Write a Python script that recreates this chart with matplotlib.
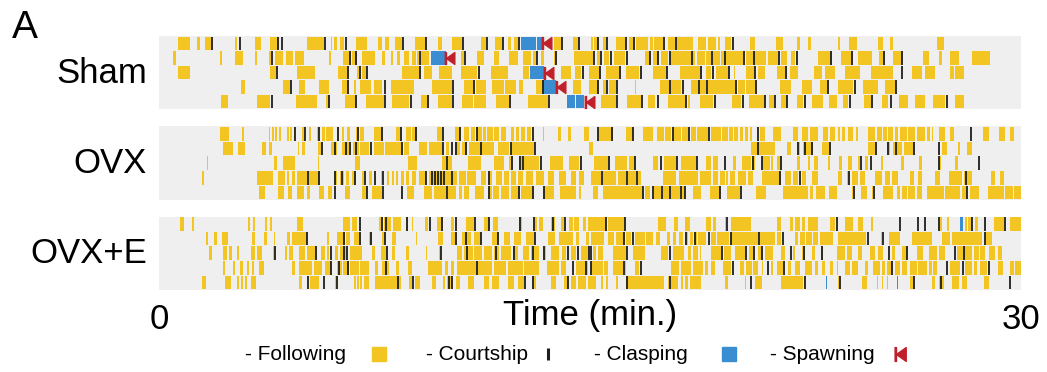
import matplotlib
matplotlib.use("Agg")
from matplotlib import pyplot as plt
from matplotlib.path import Path

plt.rcParams['font.family'] = ['Liberation Sans', 'DejaVu Sans']

# event times in minutes, one list per fish (5 fish per group)
# following bouts are (start, end); courtship and spawning are single time points

sham_following = [
    [(0.67,1.08),(1.31,1.43),(1.60,1.81),(2.65,2.71),(3.33,3.56),(3.87,4.16),(5.15,5.73),(5.97,6.02),(6.08,6.20),(6.31,6.43),(6.84,7.24),(7.63,7.77),(7.88,8.00),(8.21,8.47),(8.91,9.28),(9.72,9.86),(10.19,10.56),(11.20,11.37),(11.70,11.95),(12.13,12.24),(12.36,12.48),(13.76,13.99),(14.40,14.57),(15.03,15.10),(15.15,15.27),(15.44,15.56),(15.91,16.20),(16.37,16.49),(16.60,17.01),(17.07,17.19),(17.24,17.53),(17.71,17.94),(18.03,18.58),(18.76,19.05),(19.10,19.40),(19.45,19.51),(19.69,19.92),(20.56,20.73),(21.47,21.72),(22.19,22.31),(22.60,22.69),(23.62,23.70),(24.01,24.28),(25.01,25.21),(25.44,25.56),(27.08,27.31)],
    [(0.50,0.58),(2.13,2.19),(2.63,2.91),(3.35,3.41),(3.81,3.91),(4.02,4.30),(4.43,4.66),(4.72,5.06),(5.91,5.97),(6.41,6.60),(6.72,6.84),(7.05,7.50),(7.77,7.88),(8.06,8.14),(8.29,8.37),(8.52,8.70),(8.81,8.93),(8.99,9.05),(9.10,9.40),(10.50,10.62),(11.08,11.31),(11.66,11.84),(12.19,12.48),(12.65,12.94),(13.00,13.12),(13.29,13.41),(13.76,13.81),(14.45,15.09),(15.24,15.33),(15.50,15.67),(15.85,16.20),(16.90,17.07),(17.19,17.37),(17.48,17.71),(17.77,18.64),(18.73,18.99),(19.05,19.22),(19.28,19.51),(19.57,19.69),(19.74,20.33),(20.44,21.14),(21.20,21.55),(21.64,21.84),(22.01,22.13),(22.94,23.41),(23.73,24.10),(24.34,24.80),(25.06,25.21),(25.56,25.85),(26.60,26.78),(27.13,27.24),(27.53,27.83),(28.29,28.93)],
    [(0.67,1.08),(3.87,4.07),(4.80,5.42),(6.23,6.55),(6.90,6.98),(7.07,7.19),(8.44,9.05),(9.22,9.51),(9.74,10.19),(10.50,11.08),(11.55,12.13),(12.65,12.88),(13.99,14.34),(14.49,14.69),(14.95,15.33),(15.56,16.02),(16.26,16.72),(17.19,17.65),(18.12,18.81),(19.05,19.22),(19.40,19.80),(20.01,20.06),(20.44,20.73),(20.85,21.08),(21.49,21.78),(21.95,22.24),(22.80,23.06),(23.17,23.52),(23.87,24.40),(24.78,25.56),(26.20,26.55),(26.66,27.01),(27.53,27.65),(27.71,28.00)],
    [(2.86,3.00),(4.31,4.57),(4.86,5.09),(5.56,5.91),(6.37,6.55),(6.78,6.87),(7.01,7.36),(7.48,7.77),(8.06,8.87),(9.51,10.21),(10.62,10.91),(11.02,11.37),(11.60,12.00),(12.03,12.42),(12.53,12.65),(13.12,13.35),(14.40,14.69),(14.98,15.26),(15.44,15.56),(15.67,15.91),(16.55,16.60),(17.42,17.77),(17.83,18.17),(18.52,18.76),(18.81,19.05),(19.09,20.03),(20.15,20.38),(20.44,20.73),(21.60,22.01),(22.36,22.71),(23.00,23.23),(23.64,24.16),(24.51,25.03),(25.27,25.62)],
    [(2.16,2.40),(3.41,3.87),(4.77,5.50),(5.81,5.91),(6.47,6.84),(7.19,7.83),(8.12,8.70),(9.10,9.34),(9.72,10.21),(10.53,10.91),(10.97,11.37),(11.72,12.19),(12.83,13.52),(15.38,15.91),(16.29,16.78),(17.03,17.27),(17.71,18.29),(18.41,18.47),(18.81,19.28),(19.94,20.27),(20.53,21.08),(21.22,21.41),(21.66,21.84),(22.19,22.42),(22.71,23.12),(23.31,23.58),(23.81,23.99),(24.55,24.78),(25.15,25.38),(25.76,26.08),(26.31,26.66),(26.95,27.36),(27.69,28.00)],
]
sham_courtship = [
    [1.86,2.83,4.14,4.28,5.79,6.49,8.49,9.30,10.58,11.43,11.98,12.53,14.02,14.63,15.29,15.59,16.26,16.52,17.57,18.00,19.98],
    [3.93,6.63,6.87,9.07,10.65,13.15,13.83,15.15,15.38,15.73,16.29,17.10,17.38,17.77,18.55,19.24,19.71,20.36,20.71,21.57,22.19,23.38,24.12,25.23,25.87],
    [4.10,6.57,6.99,7.24,9.07,11.12,14.74,15.36,16.06,16.76,17.69,18.85,19.28,19.83,20.74,21.81,25.85],
    [4.60,6.58,7.86,10.23,10.97,13.36,15.28,15.59,15.94,17.80,18.23,18.79,19.08,20.09,20.79,23.27,24.22,25.64],
    [3.93,5.93,6.87,7.86,8.76,9.37,10.24,12.21,13.56,15.94,16.80,17.36,18.35,19.34,20.33,21.10,21.43,21.86,22.48,24.05,24.80,25.48,27.42],
]
sham_clasping = [
    [(12.59,13.12),(13.14,13.35)],
    [(9.45,9.98)],
    [(12.91,13.41)],
    [(13.37,13.81)],
    [(14.19,14.48),(14.51,14.80)],
]
sham_spawning = [[13.37], [10.00], [13.44], [13.84], [14.86]]

ovx_following = [
    [(2.13,2.42),(2.88,2.94),(3.81,3.87),(3.93,3.99),(4.05,4.10),(4.16,4.26),(4.45,4.51),(4.57,4.63),(4.69,4.74),(4.98,5.07),(5.21,5.30),(5.50,5.56),(5.67,5.79),(5.81,6.05),(6.20,6.26),(6.37,6.43),(6.55,6.63),(6.84,6.90),(6.98,7.13),(7.48,7.71),(8.26,8.41),(8.60,8.76),(8.81,8.95),(9.69,9.86),(10.30,10.50),(10.62,10.79),(10.85,11.00),(11.08,11.23),(11.28,11.37),(11.43,11.63),(11.66,11.84),(11.90,12.07),(12.24,12.36),(12.42,12.53),(12.59,12.74),(12.79,12.94),(13.35,13.41),(13.87,13.99),(14.22,14.34),(14.80,14.95),(15.27,15.79),(16.26,16.49),(16.84,17.19),(17.34,17.59),(17.62,17.83),(17.92,18.15),(18.20,18.41),(18.50,18.70),(18.73,19.10),(19.20,19.57),(19.60,19.80),(19.83,19.98),(20.01,20.15),(20.21,20.33),(20.38,20.50),(20.56,20.62),(20.91,21.08),(21.37,21.66),(22.07,22.24),(22.36,22.57),(22.65,22.94),(23.12,23.29),(23.35,23.52),(23.62,23.70),(23.78,23.87),(23.97,24.16),(24.24,24.34),(24.66,24.92),(24.98,25.15),(25.21,25.33),(25.38,25.56),(25.62,25.73),(25.79,26.02),(26.08,26.31),(26.37,26.66),(26.72,26.84),(26.90,26.95),(27.15,27.34),(27.53,27.65),(28.66,28.90),(29.24,29.43),(29.63,29.74)],
    [(2.24,2.59),(2.74,2.98),(3.58,3.72),(3.84,3.93),(4.84,4.88),(4.98,5.09),(5.53,5.67),(6.00,6.20),(6.37,6.60),(6.74,6.95),(7.01,7.30),(7.48,7.83),(7.86,8.44),(8.52,8.70),(9.05,9.34),(9.40,9.86),(9.98,10.09),(10.30,10.47),(10.56,10.73),(10.79,11.66),(11.78,12.19),(12.24,13.06),(14.98,15.09),(20.59,20.85),(20.85,21.45),(21.87,22.01),(22.19,22.31),(22.42,22.77),(23.06,23.35),(24.69,24.92),(25.33,25.44),(25.56,25.85),(25.91,26.26),(27.24,27.41),(27.80,27.88),(28.12,28.29)],
    [(1.66,1.72),(3.99,4.10),(4.30,4.74),(5.53,5.56),(6.81,6.98),(8.67,8.99),(9.84,10.19),(10.77,11.20),(11.66,12.01),(12.19,12.28),(12.53,12.65),(12.71,13.23),(13.60,14.05),(14.26,14.63),(15.15,15.62),(15.87,16.29),(16.37,16.55),(17.19,17.36),(17.59,18.00),(18.17,18.70),(19.05,19.22),(19.28,19.45),(19.97,20.09),(20.29,20.59),(20.64,20.73),(20.97,21.26),(21.29,21.37),(21.49,21.66),(22.22,22.31),(22.60,22.65),(22.80,22.94),(23.27,23.35),(23.66,23.78),(23.99,24.10),(24.34,24.40),(24.57,24.66),(25.13,25.21),(25.83,25.91),(26.45,26.55),(27.13,27.22),(27.71,27.80)],
    [(1.49,1.58),(3.41,3.95),(4.14,4.40),(4.45,4.51),(4.63,4.74),(4.80,5.15),(5.21,5.56),(6.08,6.20),(6.31,6.43),(6.49,6.60),(6.72,6.81),(7.05,7.13),(7.30,7.42),(7.71,7.77),(7.94,8.00),(8.12,8.17),(8.23,8.33),(8.41,8.52),(8.58,8.70),(8.79,8.93),(9.05,9.28),(9.40,10.38),(10.44,10.67),(10.73,11.02),(11.20,11.37),(11.49,11.60),(11.72,11.95),(12.01,12.19),(12.24,12.42),(12.48,12.65),(12.77,13.00),(13.12,13.41),(13.52,13.76),(13.93,14.16),(14.34,14.51),(14.63,14.80),(15.03,15.38),(15.44,15.91),(15.97,16.26),(16.31,16.60),(16.66,16.78),(17.53,18.00),(18.08,18.76),(18.81,19.22),(19.28,19.45),(19.51,19.69),(19.74,19.80),(19.86,20.06),(20.15,20.44),(20.50,20.67),(20.97,21.60),(21.78,22.01),(22.07,22.24),(22.36,22.53),(22.71,22.94),(23.64,23.76),(23.93,24.01),(24.13,24.34),(24.40,24.57),(24.92,25.15),(25.27,25.44),(25.50,25.73),(26.14,26.26),(26.41,26.55),(27.01,27.19),(27.48,27.94),(28.03,28.29),(28.97,29.10),(29.27,29.40)],
    [(3.49,3.70),(4.14,4.34),(4.49,4.63),(4.80,5.03),(5.15,5.27),(5.58,5.73),(5.88,6.02),(6.47,6.63),(7.07,7.24),(7.42,7.77),(8.41,8.47),(8.64,8.87),(9.22,9.51),(9.57,9.98),(10.07,10.33),(10.44,10.56),(10.62,10.79),(11.00,11.31),(11.47,11.60),(11.63,11.84),(11.90,12.19),(12.24,12.53),(12.59,13.00),(13.35,13.76),(13.95,14.51),(14.60,14.69),(15.09,15.27),(15.44,16.83),(16.90,17.07),(17.22,17.48),(17.53,17.77),(17.83,18.12),(18.20,18.29),(18.58,18.87),(19.16,19.51),(19.78,20.21),(20.79,21.14),(21.72,22.60),(22.65,22.77),(22.88,23.17),(23.31,23.58),(24.10,24.16),(24.43,24.63),(24.80,24.86),(25.21,25.56),(25.67,25.79),(25.85,26.02),(26.08,26.31),(26.37,26.55),(26.72,27.31),(27.34,27.88),(27.94,28.12),(28.24,28.52),(28.85,29.40),(29.45,29.71),(29.74,30.00)],
]
ovx_courtship = [
    [4.72,5.09,5.57,6.23,6.91,7.77,8.43,8.96,9.87,10.47,11.08,13.02,15.29,15.76,16.50,17.88,18.43,19.13,20.83,28.27],
    [5.68,6.14,6.49,6.66,6.86,7.36,8.47,9.87,10.19,10.33,10.67,11.21,12.24,13.07,20.83,22.24,22.48,22.71,23.36,24.94,25.38,25.64,26.27,27.15],
    [10.02,12.30,12.56,12.66,13.29,14.69,15.67,16.57,17.48,18.03,18.73,19.71,20.67,20.99,21.64,24.43,24.78,27.13,28.52],
    [5.19,5.57,6.12,6.37,6.82,7.16,7.51,7.78,9.29,9.49,9.60,9.72,9.83,9.92,10.21,11.49,15.40,16.27,16.64,21.61,22.31,24.00,28.08],
    [6.12,7.25,7.78,8.44,10.03,11.49,12.54,13.01,13.41,16.86,17.19,17.50,17.80,18.15,18.31,19.52,20.24,24.17,24.87,28.13],
]
ovx_clasping = [[], [], [], [], []]
ovx_spawning = [[], [], [], [], []]

ovxe_following = [
    [(0.73,0.88),(1.16,1.23),(3.09,3.17),(3.26,3.35),(3.70,3.76),(3.87,3.93),(4.80,5.00),(6.40,6.66),(6.72,6.90),(7.65,7.74),(7.83,8.06),(8.14,8.41),(8.58,8.67),(8.79,8.84),(9.26,9.37),(9.69,9.84),(10.15,10.27),(10.67,10.97),(11.31,11.47),(11.63,11.78),(12.53,12.63),(13.00,13.17),(13.23,13.35),(13.64,13.79),(13.99,14.10),(14.28,14.40),(14.45,14.63),(14.74,14.86),(14.92,15.56),(15.62,16.20),(17.36,17.65),(17.92,18.06),(18.31,18.48),(19.05,19.22),(19.28,19.40),(19.69,19.74),(19.92,20.59),(21.49,21.66),(21.95,22.07),(22.13,22.31),(22.36,22.48),(22.60,22.94),(23.35,23.52),(23.87,24.16),(24.34,24.51),(24.78,24.86),(27.19,27.24),(27.41,27.48),(28.05,28.12),(28.17,28.29),(28.41,28.50),(29.07,29.42),(29.63,30.00)],
    [(1.63,1.72),(1.93,2.01),(2.19,2.40),(3.23,3.35),(3.67,3.76),(3.99,4.05),(4.45,4.57),(4.63,5.15),(5.85,5.91),(6.20,6.47),(6.49,6.66),(6.78,6.95),(7.30,7.40),(7.77,7.88),(8.12,8.26),(8.93,8.99),(9.72,9.88),(10.15,10.30),(10.56,10.85),(10.97,11.20),(11.60,11.78),(12.01,12.21),(12.36,12.59),(12.77,13.06),(13.52,13.79),(13.93,14.40),(14.51,14.63),(14.86,14.98),(15.03,15.50),(15.62,15.85),(15.91,16.20),(16.26,16.43),(16.55,16.90),(16.95,17.19),(17.30,17.45),(17.69,17.80),(17.88,18.00),(18.08,18.23),(18.31,18.41),(18.47,18.58),(18.66,18.73),(18.76,19.05),(19.22,19.40),(19.43,19.83),(19.90,20.85),(20.91,21.43),(21.49,21.66),(22.13,22.24),(22.30,22.48),(22.53,22.71),(22.77,22.94),(23.00,23.47),(23.64,24.59),(25.13,25.17),(25.41,25.79),(26.20,26.90),(27.24,27.53),(27.59,28.64),(28.78,28.99)],
    [(1.74,1.84),(2.24,2.36),(2.42,2.53),(2.71,2.77),(3.21,3.35),(3.41,3.58),(3.95,4.02),(4.37,4.45),(4.53,4.65),(4.86,5.09),(5.15,5.42),(5.62,5.79),(5.85,5.91),(6.14,6.23),(6.31,6.49),(6.66,7.07),(7.42,7.51),(7.71,7.91),(8.12,8.21),(8.58,8.70),(9.28,9.34),(9.74,9.80),(10.38,10.56),(10.62,10.91),(10.97,11.23),(11.31,11.60),(11.66,11.84),(11.90,12.24),(12.33,12.48),(12.65,12.88),(12.94,13.23),(13.35,13.47),(13.64,13.93),(14.02,14.16),(14.34,14.51),(14.69,14.92),(15.09,15.21),(15.27,15.44),(15.79,16.26),(16.49,16.92),(17.48,17.73),(17.88,18.27),(18.41,18.52),(18.58,18.76),(18.81,18.87),(19.22,19.57),(19.66,19.92),(20.03,20.38),(20.53,20.69),(20.85,20.99),(21.08,21.37),(21.66,21.78),(22.07,22.15),(22.36,22.48),(22.71,22.83),(23.03,23.12),(23.58,23.87),(23.93,24.10),(24.34,24.45),(24.74,24.92),(25.03,25.21),(25.50,25.62),(25.85,26.02),(26.37,26.60),(26.78,27.08),(27.13,27.36),(27.77,28.29),(28.35,28.52),(28.58,28.76),(28.87,29.10),(29.20,29.34)],
    [(2.24,2.30),(2.56,2.63),(2.83,2.91),(3.06,3.12),(3.23,3.29),(3.49,3.64),(4.63,4.74),(4.88,5.33),(5.38,5.67),(5.79,5.97),(6.20,6.37),(6.40,6.60),(6.66,6.95),(7.01,7.30),(7.53,7.63),(7.77,8.00),(8.23,8.35),(8.67,8.79),(9.37,9.86),(9.95,10.07),(10.15,10.27),(10.38,11.02),(11.08,11.60),(11.66,12.07),(12.13,12.65),(12.71,13.23),(13.49,13.93),(13.99,14.16),(14.51,14.92),(15.03,15.44),(15.50,15.62),(15.79,16.13),(16.20,16.26),(16.55,16.72),(17.83,18.08),(18.15,18.52),(18.58,18.93),(18.99,19.10),(19.22,19.34),(19.63,19.92),(20.21,20.36),(20.44,20.62),(20.67,20.85),(20.97,21.03),(21.29,21.37),(21.49,21.72),(21.90,22.01),(22.13,22.31),(22.48,22.71),(22.83,22.94),(23.08,23.17),(23.35,23.47),(23.58,23.64),(23.87,24.05),(24.10,24.34),(24.57,24.69),(24.86,25.09),(25.15,25.27),(25.33,25.50),(25.62,25.79),(25.85,26.02),(26.14,26.37),(26.43,26.72),(26.78,26.90),(26.95,27.08),(27.53,27.88),(28.06,28.29),(28.38,28.47),(28.58,28.81),(29.21,29.38),(29.63,29.74),(29.80,30.00)],
    [(1.49,1.63),(2.28,2.51),(2.71,2.77),(2.86,2.91),(3.00,3.06),(3.21,3.37),(4.86,4.98),(5.27,5.56),(6.14,6.20),(6.78,6.84),(6.90,6.95),(7.01,7.07),(7.13,7.30),(7.51,8.23),(8.26,8.41),(8.70,8.81),(8.91,9.07),(9.51,9.63),(9.88,9.95),(10.03,10.21),(10.33,10.47),(10.77,10.97),(11.31,11.49),(11.60,11.84),(12.13,12.36),(12.48,12.71),(13.00,13.12),(13.64,13.81),(14.10,14.22),(14.34,14.51),(14.57,14.86),(14.92,15.21),(15.38,15.44),(15.55,15.62),(15.91,15.97),(16.26,17.59),(17.71,17.77),(17.83,18.06),(18.15,18.23),(18.29,18.41),(18.47,18.87),(19.69,19.80),(20.38,20.44),(20.73,20.97),(21.66,22.42),(23.64,23.70),(24.45,24.63),(24.98,25.03),(25.15,25.21),(25.33,25.38),(26.14,26.26),(26.90,27.01),(27.13,27.31),(27.59,27.83),(27.94,28.12),(28.70,28.87)],
]
ovxe_courtship = [
    [6.98,7.75,7.91,8.64,9.42,9.86,10.33,10.98,11.48,12.56,13.06,13.72,14.14,15.57,16.23,19.75,23.58,25.79,26.41,26.66,27.13,28.30,28.73,29.45],
    [5.16,6.43,7.01,7.36,7.86,10.33,10.67,11.21,11.79,13.07,16.17,16.49,18.35,18.66,19.13,19.90,20.87,21.72,24.66,25.18,28.76],
    [4.03,5.47,5.97,6.43,6.55,7.94,9.81,10.73,11.72,12.36,13.00,13.41,14.22,14.57,14.98,15.03,16.29,17.80,19.59,20.44,20.71,20.97,21.99,22.45,23.06,25.41,26.03,27.69,28.00],
    [6.00,6.26,6.58,7.91,11.05,14.40,14.86,15.03,16.17,16.76,19.98,21.20,21.76,25.52,27.41,27.97,28.87],
    [5.19,5.73,6.21,8.33,8.84,10.09,10.21,12.72,13.02,14.23,16.29,17.78,20.59,22.48,23.70,26.29,27.22,29.63],
]
ovxe_clasping = [[(27.88,27.99)], [], [], [], [(23.20,23.24),(25.67,25.73)]]
ovxe_spawning = [[], [], [], [], []]

group_names = ["Sham", "OVX", "OVX+E"]
legend_labels = ["- Following", "- Courtship", "- Clasping", "- Spawning"]

yellow = '#F3C523'
black = '#1e1e1e'
blue = '#3A8DD0'
red = '#C1202B'
grey = '#EFEFEF'

# thin bar with a left-pointing triangle, tip sits on the spawning time
spawn_path = Path(
    [(-0.2, -1), (0, -1), (0, 1), (-0.2, 1), (-0.2, -1),
     (0, 0), (1.4, 1), (1.4, -1), (0, 0)],
    [Path.MOVETO, Path.LINETO, Path.LINETO, Path.LINETO, Path.CLOSEPOLY,
     Path.MOVETO, Path.LINETO, Path.LINETO, Path.CLOSEPOLY])


def draw_group(ax, following, courtship, clasping, spawning):
    ax.set_facecolor(grey)
    for row in range(5):
        y0 = row + 0.04
        h = 0.92
        ax.broken_barh([(a, b - a) for a, b in following[row]], (y0, h),
                       facecolors=yellow, edgecolor='none')
        ax.vlines(courtship[row], y0, y0 + h, colors=black, linewidth=1.3)
        if clasping[row]:
            ax.broken_barh([(a, b - a) for a, b in clasping[row]], (y0, h),
                           facecolors=blue, edgecolor='none')
        for t in spawning[row]:
            ax.plot(t, row + 0.5, marker=spawn_path, markersize=12,
                    color=red, linestyle='none')
    ax.set_xlim(0, 30)
    ax.set_ylim(5, 0)
    for s in ax.spines.values():
        s.set_visible(False)
    ax.set_yticks([])
    ax.set_xticks([])


fig = plt.figure(figsize=(10.47, 3.72), dpi=100)

panels = [
    ([0.1519, 0.7070, 0.8233, 0.1962], sham_following, sham_courtship, sham_clasping, sham_spawning),
    ([0.1519, 0.4624, 0.8233, 0.1976], ovx_following, ovx_courtship, ovx_clasping, ovx_spawning),
    ([0.1519, 0.2204, 0.8233, 0.1976], ovxe_following, ovxe_courtship, ovxe_clasping, ovxe_spawning),
]
label_y = [0.7769, 0.535, 0.293]

axes = []
for (rect, fo, co, cl, sp), name, ly in zip(panels, group_names, label_y):
    ax = fig.add_axes(rect)
    draw_group(ax, fo, co, cl, sp)
    fig.text(0.1404, ly, name, ha='right', va='baseline', fontsize=25)
    axes.append(ax)

bottom = axes[-1]
bottom.set_xticks([0, 30])
bottom.set_xticklabels(['0', '30'], fontsize=25)
bottom.tick_params(axis='x', length=0, pad=9)
bottom.set_xlabel("Time (min.)", fontsize=25)
bottom.xaxis.set_label_coords(0.5, -0.12)

fig.text(0.0115, 0.898, "A", fontsize=28, va='baseline', ha='left')

# legend row: label first, then its symbol
lg = fig.add_axes([0, 0, 1, 1], facecolor='none')
lg.set_xlim(0, 1)
lg.set_ylim(0, 1)
lg.axis('off')
text_right = [0.3305, 0.5043, 0.6571, 0.8357]
for lab, xr in zip(legend_labels, text_right):
    lg.text(xr, 0.032, lab, ha='right', va='baseline', fontsize=15)
lg.plot(0.362, 0.048, marker='s', markersize=9.5, color=yellow, linestyle='none')
lg.plot(0.5234, 0.048, marker='|', markersize=9, markeredgewidth=2.2, color=black, linestyle='none')
lg.plot(0.6963, 0.048, marker='s', markersize=9.5, color=blue, linestyle='none')
lg.plot(0.8558, 0.048, marker=spawn_path, markersize=14, color=red, linestyle='none')

fig.savefig("out.png", dpi=100)
